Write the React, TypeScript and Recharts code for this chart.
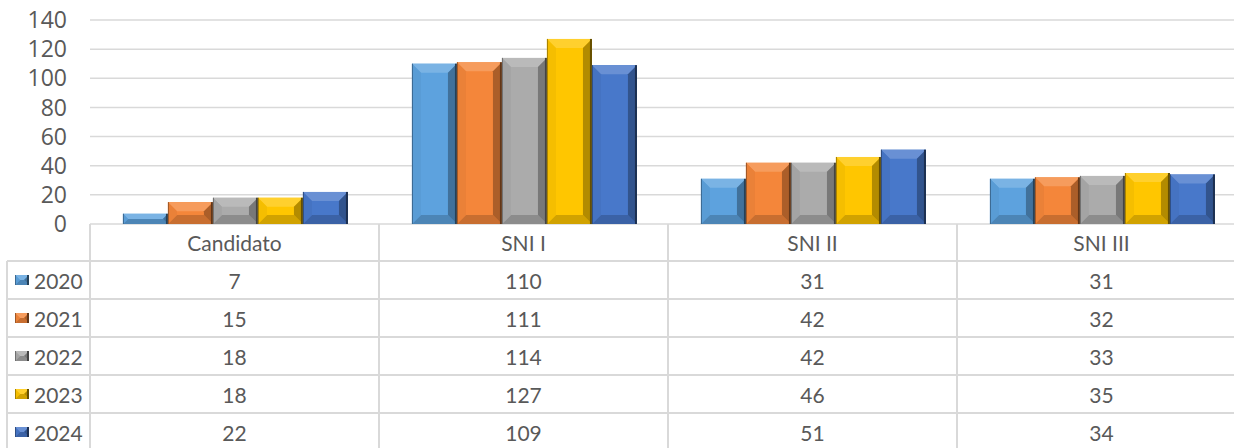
import React from 'react';
import { BarChart, Bar, XAxis, YAxis, CartesianGrid } from 'recharts';

const categories = ['Candidato', 'SNI I', 'SNI II', 'SNI III'];
const years = ['2020', '2021', '2022', '2023', '2024'];
const values2020 = [7, 110, 31, 31];
const values2021 = [15, 111, 42, 32];
const values2022 = [18, 114, 42, 33];
const values2023 = [18, 127, 46, 35];
const values2024 = [22, 109, 51, 34];
const yTicks = [0, 20, 40, 60, 80, 100, 120, 140];

const seriesValues = [values2020, values2021, values2022, values2023, values2024];
const COLORS = ['#5DA2DE', '#F4863A', '#ABABAB', '#FFC600', '#4878CA'];

const W = 1246;
const PLOT_LEFT = 90;
const COL_W = (W - PLOT_LEFT) / categories.length;
const HEADER_TOP = 224;
const HEADER_BOTTOM = 261;
const ROW_H = 38;
const LINE = '#d9d9d9';
const TEXT = '#595959';

const data = categories.map((name, i) => {
  const row: Record<string, string | number> = { name };
  years.forEach((yr, s) => {
    row[yr] = seriesValues[s][i];
  });
  return row;
});

function shade(hex: string, amt: number) {
  const n = parseInt(hex.slice(1), 16);
  let r = (n >> 16) & 255;
  let g = (n >> 8) & 255;
  let b = n & 255;
  const t = amt < 0 ? 0 : 255;
  const p = Math.abs(amt);
  r = Math.round(r + (t - r) * p);
  g = Math.round(g + (t - g) * p);
  b = Math.round(b + (t - b) * p);
  return `rgb(${r},${g},${b})`;
}

function bevel(x: number, y: number, w: number, h: number, color: string, depth: number) {
  const b = Math.min(depth, w / 2, h / 2);
  const pts = (arr: number[][]) => arr.map((p) => p.join(',')).join(' ');
  return (
    <g>
      <rect x={x} y={y} width={w} height={h} fill={color} />
      <polygon points={pts([[x, y], [x + w, y], [x + w - b, y + b], [x + b, y + b]])} fill={shade(color, 0.18)} />
      <polygon points={pts([[x, y + h], [x + w, y + h], [x + w - b, y + h - b], [x + b, y + h - b]])} fill={shade(color, -0.18)} />
      <polygon points={pts([[x, y], [x + b, y + b], [x + b, y + h - b], [x, y + h]])} fill={shade(color, -0.04)} />
      <polygon points={pts([[x + w, y], [x + w - b, y + b], [x + w - b, y + h - b], [x + w, y + h]])} fill={shade(color, -0.3)} />
      <line x1={x + w - 1} x2={x + w - 1} y1={y} y2={y + h} stroke={shade(color, -0.6)} strokeWidth={2} />
      <line x1={x + 0.5} x2={x + 0.5} y1={y} y2={y + h} stroke={shade(color, -0.35)} strokeWidth={1} />
    </g>
  );
}

function BevelBar(props: any) {
  const { x, y, width, height, fill } = props;
  if (!height || height <= 0) return null;
  return bevel(x, y, width, height, fill, 9);
}

function CategoryTick(props: any) {
  const { x, payload } = props;
  return (
    <text
      x={x}
      y={(HEADER_TOP + HEADER_BOTTOM) / 2}
      textAnchor="middle"
      dominantBaseline="central"
      fill={TEXT}
      fontSize={21}
      fontFamily="Lato, sans-serif"
    >
      {payload.value}
    </text>
  );
}

function DataTable() {
  const rowTops = years.map((_, i) => HEADER_BOTTOM + i * ROW_H);
  const bottom = 448;
  return (
    <svg width={W} height={448} style={{ position: 'absolute', left: 0, top: 0, pointerEvents: 'none' }}>
      {rowTops.map((t) => (
        <line key={t} x1={7} x2={W} y1={t} y2={t} stroke={LINE} strokeWidth={2} />
      ))}
      <line x1={7} x2={W} y1={HEADER_BOTTOM + years.length * ROW_H} y2={HEADER_BOTTOM + years.length * ROW_H} stroke={LINE} strokeWidth={2} />
      <line x1={7} x2={7} y1={HEADER_BOTTOM} y2={bottom} stroke={LINE} strokeWidth={2} />
      {categories.map((c, i) => (
        <line key={c} x1={PLOT_LEFT + i * COL_W} x2={PLOT_LEFT + i * COL_W} y1={HEADER_TOP} y2={bottom} stroke={LINE} strokeWidth={2} />
      ))}
      {years.map((yr, s) => {
        const cy = rowTops[s] + ROW_H / 2;
        return (
          <g key={yr}>
            {bevel(15, cy - 5, 14, 10, COLORS[s], 5)}
            <text x={34} y={cy} dominantBaseline="central" fill={TEXT} fontSize={21} fontFamily="Lato, sans-serif">
              {yr}
            </text>
            {seriesValues[s].map((v, i) => (
              <text
                key={i}
                x={PLOT_LEFT + (i + 0.5) * COL_W}
                y={cy}
                textAnchor="middle"
                dominantBaseline="central"
                fill={TEXT}
                fontSize={21}
                fontFamily="Lato, sans-serif"
              >
                {v}
              </text>
            ))}
          </g>
        );
      })}
    </svg>
  );
}

export default function App() {
  return (
    <div style={{ position: 'absolute', left: 0, top: 0, width: 1234, height: 448, overflow: 'hidden', background: '#fff' }}>
      <BarChart
        width={W}
        height={264}
        data={data}
        margin={{ top: 20, right: 0, bottom: 0, left: 0 }}
        barCategoryGap="11.4%"
        barGap={0}
      >
        <CartesianGrid vertical={false} stroke={LINE} strokeWidth={1.5} />
        <YAxis
          width={PLOT_LEFT}
          domain={[0, 140]}
          ticks={yTicks}
          interval={0}
          axisLine={false}
          tickLine={false}
          tickMargin={17}
          tick={{ fill: TEXT, fontSize: 23, fontFamily: '"Open Sans", sans-serif' }}
        />
        <XAxis dataKey="name" height={40} axisLine={false} tickLine={false} tick={<CategoryTick />} interval={0} />
        {years.map((yr, s) => (
          <Bar key={yr} dataKey={yr} fill={COLORS[s]} shape={<BevelBar />} isAnimationActive={false} />
        ))}
      </BarChart>
      <DataTable />
    </div>
  );
}
